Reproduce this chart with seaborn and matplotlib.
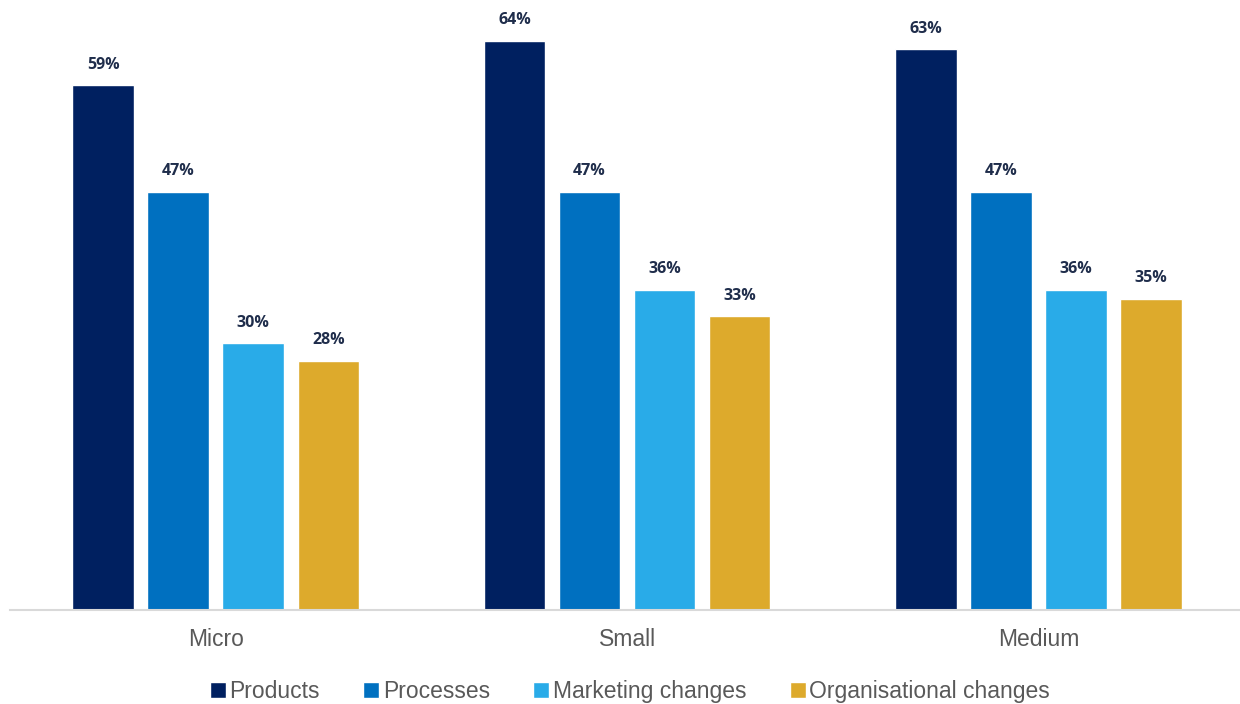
import pandas as pd
import seaborn as sns
import matplotlib.pyplot as plt

# data
sizes = ['Micro', 'Small', 'Medium']
series = ['Products', 'Processes', 'Marketing changes', 'Organisational changes']
products = [59, 64, 63]
processes = [47, 47, 47]
marketing = [30, 36, 36]
organisational = [28, 33, 35]

colors = ['#002060', '#0070C0', '#29ABE8', '#DDAA2C']

rows = []
for name, vals in zip(series, [products, processes, marketing, organisational]):
    for size, v in zip(sizes, vals):
        rows.append({'size': size, 'type': name, 'value': v})
df = pd.DataFrame(rows)

sns.set_style('white')
plt.rcParams['font.family'] = ['Liberation Sans', 'DejaVu Sans']

fig = plt.figure(figsize=(12.4, 7.04), dpi=100)
ax = fig.add_axes([10 / 1240, 1 - 610 / 704, 1230 / 1240, 605 / 704])

sns.barplot(data=df, x='size', y='value', hue='type', order=sizes,
            hue_order=series, palette=colors, width=0.73, gap=0.18,
            saturation=1, ax=ax, legend=True)

for container in ax.containers:
    ax.bar_label(container, labels=[f'{int(v)}%' for v in container.datavalues],
                 padding=9, fontsize=11.5, fontweight='bold', color='#1F2D4B',
                 family=['Open Sans', 'DejaVu Sans'])

ax.set_ylim(0, 68)
ax.set_xlim(-0.5, 2.49)
ax.set_xlabel('')
ax.set_ylabel('')
ax.set_yticks([])
ax.tick_params(axis='x', length=0, labelsize=16.5, labelcolor='#595959', pad=13)
for side in ['top', 'left', 'right']:
    ax.spines[side].set_visible(False)
ax.spines['bottom'].set_color('#D9D9D9')
ax.spines['bottom'].set_linewidth(1.5)

ax.legend(loc='upper center', bbox_to_anchor=(0.504, -0.082), ncol=4, frameon=False,
          fontsize=16.5, handlelength=0.7, handleheight=0.7, handletextpad=0.15,
          columnspacing=1.9, labelcolor='#595959')

fig.savefig('out.png', dpi=100)
